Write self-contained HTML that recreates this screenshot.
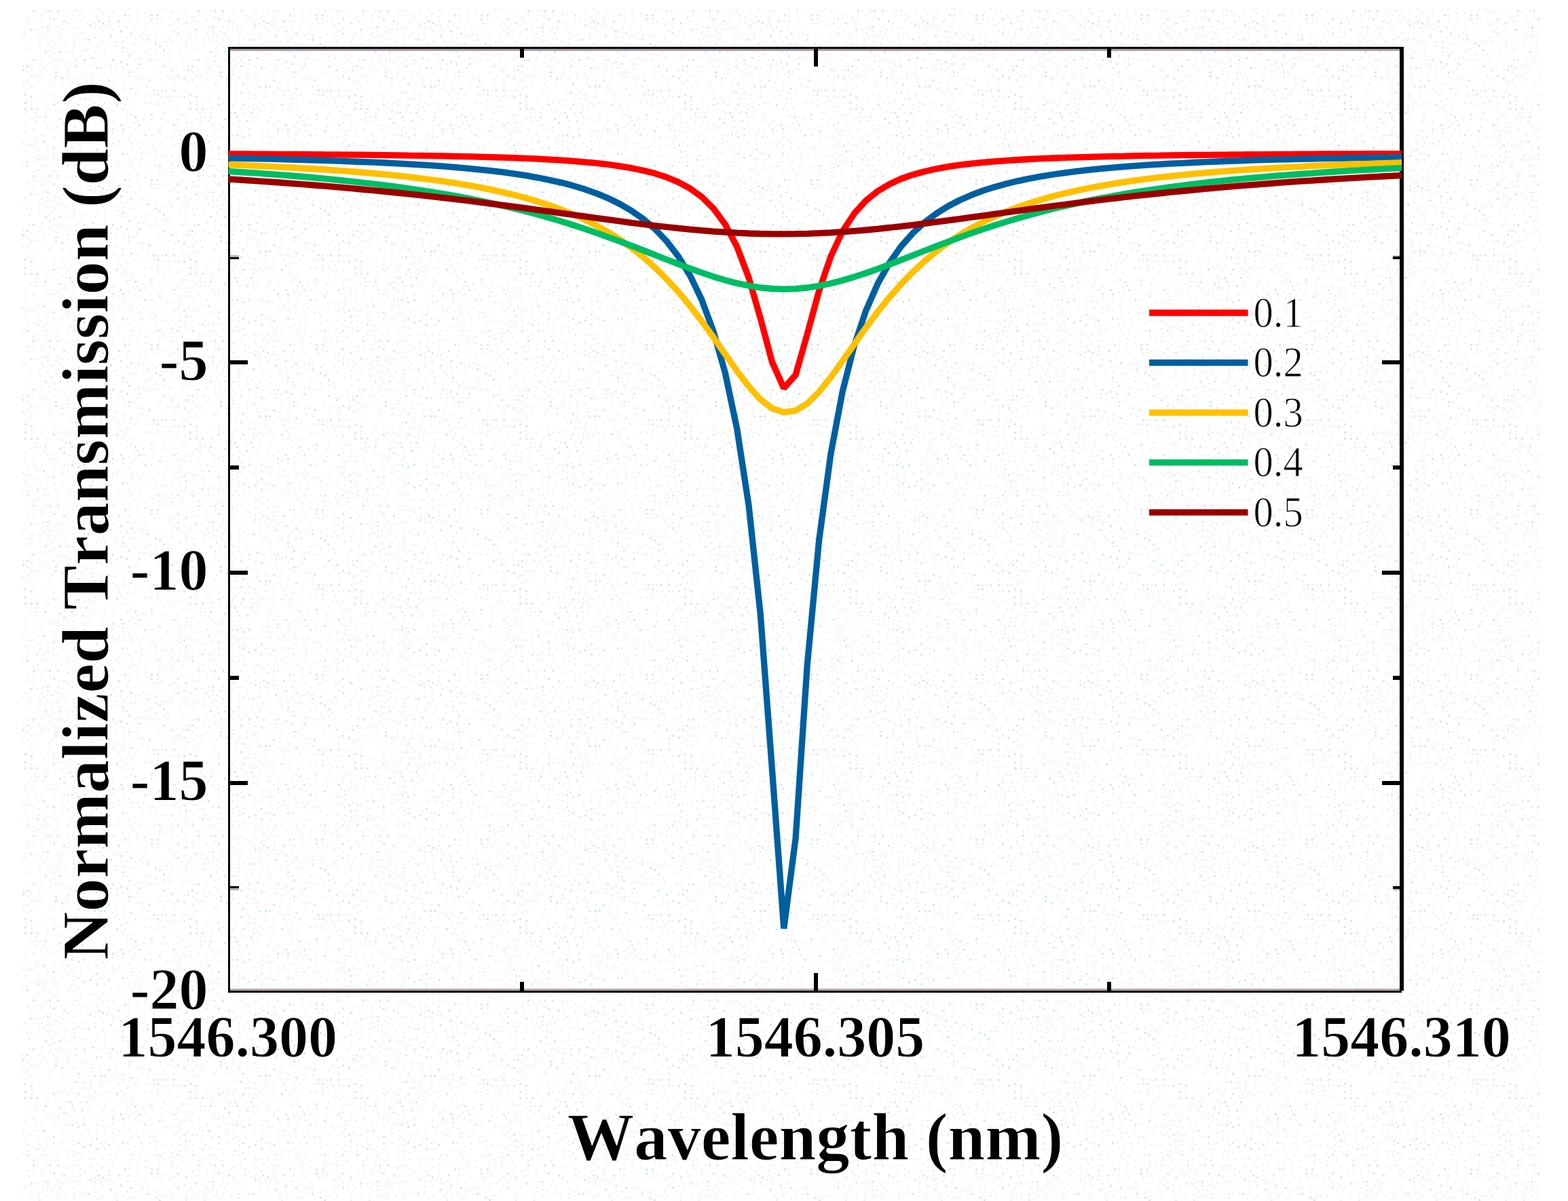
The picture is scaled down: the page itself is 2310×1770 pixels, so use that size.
<!DOCTYPE html>
<html><head><meta charset="utf-8"><title>Normalized Transmission</title>
<style>html,body{margin:0;padding:0;background:#fff}svg{display:block}text{font-family:"Liberation Serif",serif;fill:#000;font-kerning:none;font-variant-ligatures:none;stroke:#fff;stroke-width:1px;stroke-linejoin:round}.b{font-weight:bold}</style></head><body>
<svg width="2310" height="1770" viewBox="0 0 2310 1770">
<rect width="2310" height="1770" fill="#fff"/>
<defs><pattern id="n" width="243" height="243" patternUnits="userSpaceOnUse"><g fill="#faeeee"><rect x="123" y="57" width="3" height="3"/><rect x="21" y="192" width="3" height="3"/><rect x="12" y="33" width="3" height="3"/><rect x="159" y="24" width="3" height="3"/><rect x="33" y="210" width="3" height="3"/><rect x="21" y="216" width="3" height="3"/><rect x="222" y="150" width="3" height="3"/><rect x="51" y="111" width="3" height="3"/><rect x="54" y="207" width="3" height="3"/><rect x="219" y="72" width="3" height="3"/><rect x="21" y="237" width="3" height="3"/><rect x="189" y="204" width="3" height="3"/><rect x="174" y="138" width="3" height="3"/><rect x="129" y="171" width="3" height="3"/><rect x="231" y="27" width="3" height="3"/><rect x="195" y="159" width="3" height="3"/><rect x="222" y="174" width="3" height="3"/><rect x="147" y="132" width="3" height="3"/><rect x="63" y="234" width="3" height="3"/><rect x="189" y="21" width="3" height="3"/><rect x="93" y="150" width="3" height="3"/><rect x="189" y="30" width="3" height="3"/><rect x="165" y="210" width="3" height="3"/><rect x="144" y="87" width="3" height="3"/><rect x="30" y="66" width="3" height="3"/><rect x="87" y="87" width="3" height="3"/><rect x="186" y="225" width="3" height="3"/><rect x="99" y="108" width="3" height="3"/><rect x="213" y="150" width="3" height="3"/><rect x="153" y="150" width="3" height="3"/><rect x="183" y="153" width="3" height="3"/><rect x="72" y="24" width="3" height="3"/><rect x="168" y="60" width="3" height="3"/><rect x="18" y="39" width="3" height="3"/><rect x="234" y="9" width="3" height="3"/><rect x="78" y="234" width="3" height="3"/><rect x="57" y="96" width="3" height="3"/><rect x="117" y="30" width="3" height="3"/><rect x="60" y="198" width="3" height="3"/><rect x="78" y="201" width="3" height="3"/><rect x="9" y="201" width="3" height="3"/><rect x="198" y="138" width="3" height="3"/><rect x="207" y="192" width="3" height="3"/><rect x="72" y="90" width="3" height="3"/><rect x="9" y="9" width="3" height="3"/><rect x="180" y="99" width="3" height="3"/><rect x="231" y="132" width="3" height="3"/><rect x="132" y="138" width="3" height="3"/><rect x="84" y="39" width="3" height="3"/><rect x="180" y="75" width="3" height="3"/><rect x="150" y="177" width="3" height="3"/><rect x="30" y="60" width="3" height="3"/><rect x="48" y="9" width="3" height="3"/><rect x="180" y="132" width="3" height="3"/><rect x="210" y="210" width="3" height="3"/><rect x="51" y="165" width="3" height="3"/><rect x="81" y="9" width="3" height="3"/><rect x="90" y="225" width="3" height="3"/><rect x="99" y="207" width="3" height="3"/><rect x="222" y="198" width="3" height="3"/><rect x="195" y="6" width="3" height="3"/><rect x="69" y="231" width="3" height="3"/><rect x="57" y="66" width="3" height="3"/><rect x="45" y="213" width="3" height="3"/><rect x="39" y="213" width="3" height="3"/><rect x="36" y="192" width="3" height="3"/><rect x="24" y="168" width="3" height="3"/><rect x="93" y="198" width="3" height="3"/><rect x="213" y="75" width="3" height="3"/><rect x="168" y="120" width="3" height="3"/><rect x="90" y="162" width="3" height="3"/><rect x="138" y="54" width="3" height="3"/><rect x="51" y="177" width="3" height="3"/><rect x="60" y="84" width="3" height="3"/><rect x="165" y="195" width="3" height="3"/><rect x="129" y="159" width="3" height="3"/><rect x="135" y="120" width="3" height="3"/><rect x="138" y="6" width="3" height="3"/><rect x="210" y="174" width="3" height="3"/><rect x="6" y="147" width="3" height="3"/><rect x="111" y="195" width="3" height="3"/><rect x="42" y="87" width="3" height="3"/><rect x="99" y="153" width="3" height="3"/><rect x="27" y="102" width="3" height="3"/><rect x="30" y="231" width="3" height="3"/><rect x="45" y="174" width="3" height="3"/><rect x="129" y="210" width="3" height="3"/><rect x="102" y="237" width="3" height="3"/><rect x="90" y="42" width="3" height="3"/><rect x="99" y="18" width="3" height="3"/><rect x="132" y="6" width="3" height="3"/><rect x="12" y="3" width="3" height="3"/><rect x="192" y="210" width="3" height="3"/><rect x="195" y="180" width="3" height="3"/><rect x="150" y="192" width="3" height="3"/><rect x="81" y="87" width="3" height="3"/><rect x="75" y="51" width="3" height="3"/><rect x="132" y="18" width="3" height="3"/><rect x="96" y="165" width="3" height="3"/><rect x="108" y="228" width="3" height="3"/><rect x="111" y="15" width="3" height="3"/><rect x="69" y="60" width="3" height="3"/><rect x="171" y="0" width="3" height="3"/><rect x="123" y="93" width="3" height="3"/><rect x="117" y="81" width="3" height="3"/><rect x="69" y="0" width="3" height="3"/><rect x="192" y="0" width="3" height="3"/><rect x="99" y="33" width="3" height="3"/><rect x="153" y="225" width="3" height="3"/><rect x="150" y="6" width="3" height="3"/><rect x="114" y="240" width="3" height="3"/><rect x="57" y="228" width="3" height="3"/><rect x="123" y="189" width="3" height="3"/><rect x="192" y="216" width="3" height="3"/><rect x="222" y="87" width="3" height="3"/><rect x="9" y="15" width="3" height="3"/><rect x="138" y="39" width="3" height="3"/><rect x="171" y="213" width="3" height="3"/><rect x="99" y="0" width="3" height="3"/><rect x="228" y="54" width="3" height="3"/><rect x="216" y="51" width="3" height="3"/><rect x="108" y="177" width="3" height="3"/><rect x="30" y="180" width="3" height="3"/><rect x="27" y="192" width="3" height="3"/><rect x="102" y="147" width="3" height="3"/><rect x="201" y="99" width="3" height="3"/><rect x="195" y="105" width="3" height="3"/><rect x="189" y="186" width="3" height="3"/><rect x="9" y="60" width="3" height="3"/><rect x="186" y="171" width="3" height="3"/><rect x="114" y="54" width="3" height="3"/><rect x="132" y="144" width="3" height="3"/><rect x="45" y="126" width="3" height="3"/><rect x="150" y="45" width="3" height="3"/><rect x="3" y="111" width="3" height="3"/><rect x="141" y="24" width="3" height="3"/><rect x="147" y="225" width="3" height="3"/><rect x="105" y="39" width="3" height="3"/><rect x="108" y="57" width="3" height="3"/><rect x="9" y="240" width="3" height="3"/><rect x="18" y="156" width="3" height="3"/><rect x="108" y="186" width="3" height="3"/><rect x="210" y="48" width="3" height="3"/><rect x="180" y="159" width="3" height="3"/><rect x="108" y="114" width="3" height="3"/><rect x="60" y="27" width="3" height="3"/><rect x="210" y="84" width="3" height="3"/><rect x="33" y="120" width="3" height="3"/><rect x="156" y="201" width="3" height="3"/><rect x="240" y="81" width="3" height="3"/><rect x="102" y="93" width="3" height="3"/><rect x="153" y="171" width="3" height="3"/><rect x="117" y="6" width="3" height="3"/><rect x="150" y="201" width="3" height="3"/><rect x="171" y="93" width="3" height="3"/><rect x="84" y="57" width="3" height="3"/><rect x="12" y="114" width="3" height="3"/><rect x="165" y="42" width="3" height="3"/><rect x="147" y="99" width="3" height="3"/><rect x="228" y="0" width="3" height="3"/><rect x="204" y="114" width="3" height="3"/><rect x="90" y="210" width="3" height="3"/><rect x="117" y="21" width="3" height="3"/><rect x="159" y="30" width="3" height="3"/><rect x="138" y="150" width="3" height="3"/><rect x="78" y="189" width="3" height="3"/><rect x="189" y="234" width="3" height="3"/><rect x="84" y="186" width="3" height="3"/><rect x="21" y="228" width="3" height="3"/><rect x="150" y="18" width="3" height="3"/><rect x="9" y="228" width="3" height="3"/><rect x="21" y="69" width="3" height="3"/><rect x="42" y="30" width="3" height="3"/><rect x="126" y="72" width="3" height="3"/><rect x="201" y="177" width="3" height="3"/><rect x="117" y="144" width="3" height="3"/><rect x="63" y="39" width="3" height="3"/><rect x="30" y="132" width="3" height="3"/><rect x="78" y="144" width="3" height="3"/><rect x="117" y="165" width="3" height="3"/><rect x="18" y="180" width="3" height="3"/><rect x="141" y="207" width="3" height="3"/><rect x="72" y="123" width="3" height="3"/><rect x="144" y="12" width="3" height="3"/><rect x="120" y="105" width="3" height="3"/><rect x="24" y="9" width="3" height="3"/><rect x="177" y="147" width="3" height="3"/><rect x="48" y="189" width="3" height="3"/><rect x="90" y="123" width="3" height="3"/><rect x="150" y="60" width="3" height="3"/><rect x="207" y="123" width="3" height="3"/><rect x="237" y="30" width="3" height="3"/><rect x="171" y="66" width="3" height="3"/><rect x="45" y="111" width="3" height="3"/><rect x="105" y="216" width="3" height="3"/><rect x="99" y="75" width="3" height="3"/><rect x="93" y="90" width="3" height="3"/><rect x="108" y="222" width="3" height="3"/><rect x="123" y="24" width="3" height="3"/><rect x="111" y="87" width="3" height="3"/><rect x="228" y="222" width="3" height="3"/><rect x="237" y="132" width="3" height="3"/><rect x="12" y="141" width="3" height="3"/><rect x="78" y="96" width="3" height="3"/><rect x="228" y="78" width="3" height="3"/><rect x="156" y="36" width="3" height="3"/><rect x="138" y="75" width="3" height="3"/><rect x="153" y="78" width="3" height="3"/><rect x="219" y="138" width="3" height="3"/><rect x="60" y="48" width="3" height="3"/><rect x="18" y="210" width="3" height="3"/><rect x="192" y="63" width="3" height="3"/><rect x="132" y="108" width="3" height="3"/><rect x="198" y="63" width="3" height="3"/><rect x="186" y="75" width="3" height="3"/><rect x="231" y="147" width="3" height="3"/><rect x="153" y="234" width="3" height="3"/><rect x="12" y="123" width="3" height="3"/><rect x="147" y="141" width="3" height="3"/><rect x="192" y="168" width="3" height="3"/><rect x="237" y="186" width="3" height="3"/><rect x="237" y="174" width="3" height="3"/><rect x="39" y="24" width="3" height="3"/><rect x="138" y="33" width="3" height="3"/><rect x="42" y="72" width="3" height="3"/><rect x="96" y="60" width="3" height="3"/><rect x="234" y="105" width="3" height="3"/><rect x="78" y="225" width="3" height="3"/><rect x="75" y="69" width="3" height="3"/><rect x="123" y="144" width="3" height="3"/><rect x="30" y="168" width="3" height="3"/><rect x="0" y="12" width="3" height="3"/><rect x="240" y="165" width="3" height="3"/><rect x="135" y="114" width="3" height="3"/><rect x="204" y="84" width="3" height="3"/><rect x="180" y="60" width="3" height="3"/><rect x="57" y="171" width="3" height="3"/><rect x="198" y="189" width="3" height="3"/><rect x="63" y="0" width="3" height="3"/><rect x="21" y="204" width="3" height="3"/><rect x="153" y="69" width="3" height="3"/><rect x="204" y="0" width="3" height="3"/><rect x="165" y="177" width="3" height="3"/><rect x="12" y="45" width="3" height="3"/><rect x="63" y="99" width="3" height="3"/><rect x="63" y="54" width="3" height="3"/><rect x="39" y="237" width="3" height="3"/><rect x="225" y="138" width="3" height="3"/><rect x="147" y="39" width="3" height="3"/><rect x="78" y="78" width="3" height="3"/><rect x="36" y="48" width="3" height="3"/><rect x="162" y="99" width="3" height="3"/><rect x="132" y="96" width="3" height="3"/><rect x="18" y="141" width="3" height="3"/><rect x="204" y="216" width="3" height="3"/><rect x="108" y="63" width="3" height="3"/><rect x="0" y="201" width="3" height="3"/><rect x="99" y="219" width="3" height="3"/><rect x="123" y="135" width="3" height="3"/><rect x="63" y="177" width="3" height="3"/><rect x="87" y="48" width="3" height="3"/><rect x="57" y="57" width="3" height="3"/><rect x="105" y="75" width="3" height="3"/><rect x="39" y="105" width="3" height="3"/><rect x="6" y="54" width="3" height="3"/><rect x="231" y="153" width="3" height="3"/><rect x="69" y="45" width="3" height="3"/><rect x="186" y="39" width="3" height="3"/><rect x="174" y="207" width="3" height="3"/><rect x="180" y="195" width="3" height="3"/><rect x="141" y="198" width="3" height="3"/><rect x="144" y="153" width="3" height="3"/><rect x="135" y="222" width="3" height="3"/><rect x="84" y="150" width="3" height="3"/><rect x="81" y="63" width="3" height="3"/><rect x="135" y="156" width="3" height="3"/><rect x="69" y="183" width="3" height="3"/><rect x="105" y="135" width="3" height="3"/><rect x="3" y="78" width="3" height="3"/><rect x="36" y="222" width="3" height="3"/><rect x="171" y="132" width="3" height="3"/><rect x="210" y="114" width="3" height="3"/><rect x="45" y="99" width="3" height="3"/><rect x="0" y="60" width="3" height="3"/><rect x="189" y="111" width="3" height="3"/><rect x="186" y="54" width="3" height="3"/><rect x="165" y="129" width="3" height="3"/><rect x="120" y="114" width="3" height="3"/><rect x="225" y="33" width="3" height="3"/><rect x="153" y="210" width="3" height="3"/><rect x="207" y="234" width="3" height="3"/><rect x="30" y="81" width="3" height="3"/><rect x="3" y="141" width="3" height="3"/><rect x="69" y="159" width="3" height="3"/><rect x="162" y="0" width="3" height="3"/><rect x="81" y="45" width="3" height="3"/><rect x="147" y="117" width="3" height="3"/><rect x="54" y="42" width="3" height="3"/><rect x="159" y="183" width="3" height="3"/><rect x="216" y="126" width="3" height="3"/><rect x="237" y="228" width="3" height="3"/><rect x="162" y="93" width="3" height="3"/><rect x="231" y="87" width="3" height="3"/><rect x="108" y="0" width="3" height="3"/><rect x="99" y="102" width="3" height="3"/><rect x="54" y="219" width="3" height="3"/><rect x="186" y="144" width="3" height="3"/><rect x="24" y="87" width="3" height="3"/><rect x="99" y="198" width="3" height="3"/><rect x="72" y="81" width="3" height="3"/><rect x="219" y="216" width="3" height="3"/><rect x="15" y="189" width="3" height="3"/><rect x="6" y="36" width="3" height="3"/><rect x="225" y="216" width="3" height="3"/><rect x="162" y="36" width="3" height="3"/><rect x="12" y="213" width="3" height="3"/><rect x="33" y="96" width="3" height="3"/><rect x="180" y="123" width="3" height="3"/><rect x="144" y="63" width="3" height="3"/><rect x="27" y="237" width="3" height="3"/><rect x="51" y="171" width="3" height="3"/><rect x="111" y="159" width="3" height="3"/><rect x="54" y="6" width="3" height="3"/><rect x="108" y="69" width="3" height="3"/><rect x="165" y="15" width="3" height="3"/><rect x="69" y="51" width="3" height="3"/><rect x="21" y="198" width="3" height="3"/><rect x="69" y="216" width="3" height="3"/><rect x="27" y="45" width="3" height="3"/><rect x="204" y="51" width="3" height="3"/><rect x="39" y="117" width="3" height="3"/><rect x="66" y="15" width="3" height="3"/><rect x="45" y="153" width="3" height="3"/><rect x="207" y="225" width="3" height="3"/><rect x="201" y="12" width="3" height="3"/><rect x="129" y="153" width="3" height="3"/><rect x="213" y="18" width="3" height="3"/><rect x="6" y="84" width="3" height="3"/></g><g fill="#d2eaf6"><rect x="18" y="27" width="3" height="3"/><rect x="36" y="138" width="3" height="3"/><rect x="222" y="21" width="3" height="3"/><rect x="84" y="15" width="3" height="3"/><rect x="219" y="117" width="3" height="3"/><rect x="69" y="39" width="3" height="3"/><rect x="120" y="177" width="3" height="3"/><rect x="93" y="30" width="3" height="3"/><rect x="114" y="201" width="3" height="3"/><rect x="129" y="57" width="3" height="3"/><rect x="27" y="213" width="3" height="3"/><rect x="132" y="228" width="3" height="3"/><rect x="33" y="102" width="3" height="3"/><rect x="171" y="153" width="3" height="3"/><rect x="54" y="159" width="3" height="3"/><rect x="141" y="234" width="3" height="3"/><rect x="216" y="57" width="3" height="3"/><rect x="231" y="138" width="3" height="3"/><rect x="45" y="42" width="3" height="3"/><rect x="177" y="183" width="3" height="3"/><rect x="135" y="84" width="3" height="3"/><rect x="87" y="75" width="3" height="3"/><rect x="234" y="0" width="3" height="3"/><rect x="54" y="234" width="3" height="3"/><rect x="81" y="111" width="3" height="3"/><rect x="192" y="48" width="3" height="3"/><rect x="123" y="198" width="3" height="3"/><rect x="234" y="192" width="3" height="3"/><rect x="105" y="171" width="3" height="3"/><rect x="204" y="183" width="3" height="3"/><rect x="36" y="150" width="3" height="3"/><rect x="165" y="189" width="3" height="3"/><rect x="138" y="126" width="3" height="3"/><rect x="144" y="30" width="3" height="3"/><rect x="30" y="222" width="3" height="3"/><rect x="204" y="93" width="3" height="3"/><rect x="87" y="174" width="3" height="3"/><rect x="183" y="21" width="3" height="3"/><rect x="177" y="45" width="3" height="3"/><rect x="78" y="27" width="3" height="3"/><rect x="102" y="165" width="3" height="3"/><rect x="90" y="114" width="3" height="3"/><rect x="162" y="51" width="3" height="3"/><rect x="141" y="99" width="3" height="3"/><rect x="189" y="105" width="3" height="3"/><rect x="180" y="225" width="3" height="3"/><rect x="174" y="30" width="3" height="3"/><rect x="48" y="87" width="3" height="3"/><rect x="240" y="96" width="3" height="3"/><rect x="27" y="114" width="3" height="3"/><rect x="93" y="180" width="3" height="3"/><rect x="12" y="183" width="3" height="3"/><rect x="36" y="159" width="3" height="3"/><rect x="39" y="0" width="3" height="3"/><rect x="27" y="141" width="3" height="3"/><rect x="66" y="171" width="3" height="3"/><rect x="150" y="33" width="3" height="3"/><rect x="48" y="15" width="3" height="3"/><rect x="180" y="69" width="3" height="3"/><rect x="72" y="15" width="3" height="3"/><rect x="159" y="117" width="3" height="3"/><rect x="213" y="198" width="3" height="3"/><rect x="39" y="96" width="3" height="3"/><rect x="18" y="111" width="3" height="3"/><rect x="18" y="48" width="3" height="3"/><rect x="18" y="0" width="3" height="3"/><rect x="222" y="168" width="3" height="3"/><rect x="234" y="66" width="3" height="3"/><rect x="147" y="126" width="3" height="3"/><rect x="165" y="87" width="3" height="3"/><rect x="222" y="27" width="3" height="3"/><rect x="0" y="132" width="3" height="3"/><rect x="225" y="132" width="3" height="3"/><rect x="12" y="132" width="3" height="3"/><rect x="177" y="90" width="3" height="3"/><rect x="123" y="231" width="3" height="3"/><rect x="132" y="36" width="3" height="3"/><rect x="114" y="153" width="3" height="3"/><rect x="114" y="123" width="3" height="3"/><rect x="111" y="96" width="3" height="3"/><rect x="78" y="153" width="3" height="3"/><rect x="189" y="81" width="3" height="3"/><rect x="180" y="189" width="3" height="3"/><rect x="186" y="93" width="3" height="3"/><rect x="63" y="207" width="3" height="3"/><rect x="111" y="135" width="3" height="3"/><rect x="153" y="126" width="3" height="3"/><rect x="231" y="21" width="3" height="3"/><rect x="45" y="159" width="3" height="3"/><rect x="228" y="63" width="3" height="3"/><rect x="105" y="198" width="3" height="3"/><rect x="78" y="216" width="3" height="3"/><rect x="114" y="225" width="3" height="3"/><rect x="45" y="141" width="3" height="3"/><rect x="123" y="87" width="3" height="3"/><rect x="9" y="102" width="3" height="3"/><rect x="192" y="129" width="3" height="3"/><rect x="81" y="105" width="3" height="3"/><rect x="66" y="75" width="3" height="3"/><rect x="30" y="33" width="3" height="3"/><rect x="240" y="72" width="3" height="3"/><rect x="141" y="219" width="3" height="3"/><rect x="198" y="171" width="3" height="3"/><rect x="159" y="228" width="3" height="3"/><rect x="126" y="165" width="3" height="3"/></g><g fill="#f0fde4"><rect x="84" y="240" width="3" height="3"/><rect x="159" y="15" width="3" height="3"/><rect x="117" y="219" width="3" height="3"/><rect x="159" y="135" width="3" height="3"/><rect x="195" y="237" width="3" height="3"/><rect x="78" y="183" width="3" height="3"/><rect x="132" y="30" width="3" height="3"/><rect x="66" y="165" width="3" height="3"/><rect x="135" y="174" width="3" height="3"/><rect x="75" y="117" width="3" height="3"/><rect x="171" y="192" width="3" height="3"/><rect x="171" y="39" width="3" height="3"/><rect x="3" y="27" width="3" height="3"/><rect x="144" y="192" width="3" height="3"/><rect x="105" y="192" width="3" height="3"/><rect x="108" y="237" width="3" height="3"/><rect x="240" y="6" width="3" height="3"/><rect x="204" y="33" width="3" height="3"/><rect x="15" y="234" width="3" height="3"/><rect x="96" y="114" width="3" height="3"/><rect x="48" y="231" width="3" height="3"/><rect x="234" y="51" width="3" height="3"/><rect x="45" y="63" width="3" height="3"/><rect x="138" y="48" width="3" height="3"/><rect x="105" y="120" width="3" height="3"/><rect x="72" y="189" width="3" height="3"/><rect x="111" y="39" width="3" height="3"/><rect x="180" y="9" width="3" height="3"/><rect x="156" y="93" width="3" height="3"/><rect x="102" y="126" width="3" height="3"/><rect x="0" y="228" width="3" height="3"/><rect x="174" y="237" width="3" height="3"/><rect x="123" y="156" width="3" height="3"/><rect x="141" y="69" width="3" height="3"/><rect x="210" y="57" width="3" height="3"/><rect x="237" y="60" width="3" height="3"/><rect x="240" y="117" width="3" height="3"/><rect x="192" y="195" width="3" height="3"/><rect x="15" y="15" width="3" height="3"/><rect x="192" y="144" width="3" height="3"/><rect x="24" y="132" width="3" height="3"/><rect x="60" y="105" width="3" height="3"/><rect x="201" y="18" width="3" height="3"/><rect x="57" y="111" width="3" height="3"/><rect x="78" y="138" width="3" height="3"/><rect x="24" y="54" width="3" height="3"/><rect x="234" y="210" width="3" height="3"/><rect x="198" y="231" width="3" height="3"/><rect x="99" y="87" width="3" height="3"/><rect x="90" y="144" width="3" height="3"/><rect x="33" y="240" width="3" height="3"/><rect x="213" y="39" width="3" height="3"/><rect x="63" y="144" width="3" height="3"/><rect x="228" y="231" width="3" height="3"/><rect x="39" y="63" width="3" height="3"/><rect x="84" y="192" width="3" height="3"/><rect x="159" y="87" width="3" height="3"/><rect x="159" y="159" width="3" height="3"/><rect x="111" y="210" width="3" height="3"/><rect x="186" y="162" width="3" height="3"/><rect x="201" y="132" width="3" height="3"/><rect x="222" y="3" width="3" height="3"/><rect x="231" y="33" width="3" height="3"/><rect x="69" y="138" width="3" height="3"/><rect x="234" y="15" width="3" height="3"/><rect x="81" y="159" width="3" height="3"/><rect x="132" y="78" width="3" height="3"/><rect x="165" y="216" width="3" height="3"/><rect x="24" y="3" width="3" height="3"/><rect x="105" y="210" width="3" height="3"/><rect x="216" y="87" width="3" height="3"/><rect x="90" y="54" width="3" height="3"/><rect x="126" y="108" width="3" height="3"/><rect x="198" y="54" width="3" height="3"/></g><g fill="#eafbff"><rect x="93" y="69" width="3" height="3"/><rect x="120" y="129" width="3" height="3"/><rect x="24" y="21" width="3" height="3"/><rect x="171" y="108" width="3" height="3"/><rect x="108" y="48" width="3" height="3"/><rect x="120" y="48" width="3" height="3"/><rect x="18" y="174" width="3" height="3"/><rect x="39" y="129" width="3" height="3"/><rect x="99" y="183" width="3" height="3"/><rect x="84" y="234" width="3" height="3"/><rect x="189" y="135" width="3" height="3"/><rect x="45" y="147" width="3" height="3"/><rect x="126" y="33" width="3" height="3"/><rect x="6" y="3" width="3" height="3"/><rect x="39" y="201" width="3" height="3"/><rect x="48" y="21" width="3" height="3"/><rect x="180" y="237" width="3" height="3"/><rect x="213" y="183" width="3" height="3"/><rect x="105" y="15" width="3" height="3"/><rect x="213" y="9" width="3" height="3"/><rect x="195" y="75" width="3" height="3"/><rect x="45" y="57" width="3" height="3"/><rect x="69" y="102" width="3" height="3"/><rect x="219" y="189" width="3" height="3"/><rect x="105" y="21" width="3" height="3"/><rect x="15" y="201" width="3" height="3"/><rect x="54" y="15" width="3" height="3"/><rect x="51" y="201" width="3" height="3"/><rect x="201" y="24" width="3" height="3"/><rect x="183" y="108" width="3" height="3"/><rect x="33" y="54" width="3" height="3"/><rect x="138" y="162" width="3" height="3"/><rect x="120" y="72" width="3" height="3"/><rect x="75" y="6" width="3" height="3"/><rect x="12" y="162" width="3" height="3"/><rect x="198" y="39" width="3" height="3"/><rect x="9" y="156" width="3" height="3"/><rect x="189" y="12" width="3" height="3"/><rect x="84" y="99" width="3" height="3"/><rect x="15" y="99" width="3" height="3"/><rect x="39" y="180" width="3" height="3"/><rect x="90" y="204" width="3" height="3"/><rect x="39" y="228" width="3" height="3"/><rect x="60" y="150" width="3" height="3"/><rect x="159" y="6" width="3" height="3"/><rect x="237" y="141" width="3" height="3"/><rect x="48" y="30" width="3" height="3"/><rect x="30" y="18" width="3" height="3"/><rect x="99" y="42" width="3" height="3"/><rect x="240" y="150" width="3" height="3"/><rect x="3" y="93" width="3" height="3"/><rect x="60" y="21" width="3" height="3"/><rect x="75" y="60" width="3" height="3"/><rect x="180" y="201" width="3" height="3"/><rect x="36" y="186" width="3" height="3"/><rect x="108" y="81" width="3" height="3"/><rect x="30" y="186" width="3" height="3"/><rect x="153" y="165" width="3" height="3"/><rect x="219" y="225" width="3" height="3"/><rect x="180" y="213" width="3" height="3"/><rect x="87" y="69" width="3" height="3"/><rect x="177" y="54" width="3" height="3"/><rect x="129" y="180" width="3" height="3"/><rect x="201" y="210" width="3" height="3"/><rect x="117" y="213" width="3" height="3"/><rect x="93" y="171" width="3" height="3"/><rect x="240" y="213" width="3" height="3"/><rect x="171" y="102" width="3" height="3"/><rect x="54" y="120" width="3" height="3"/><rect x="3" y="177" width="3" height="3"/><rect x="198" y="87" width="3" height="3"/><rect x="3" y="156" width="3" height="3"/><rect x="159" y="150" width="3" height="3"/></g></pattern></defs>
<rect x="33" y="12" width="2236" height="1758" fill="url(#n)"/>
<g fill="#000" shape-rendering="crispEdges">
<rect x="336" y="69" width="1732" height="3"/>
<rect x="339" y="72" width="1723" height="3" fill="#a99ba8"/>
<rect x="336" y="1460" width="1729" height="3"/>
<rect x="339" y="1457" width="1723" height="3" fill="#b5a9b3"/>
<rect x="336" y="69" width="3" height="1394"/>
<rect x="2062" y="69" width="6" height="1391"/>
<rect x="339" y="376" width="13" height="3" fill="#b4b6c2"/><rect x="339" y="379" width="13" height="3"/>
<rect x="2052" y="375.5" width="10" height="2" fill="#c9c2cc"/><rect x="2052" y="377.5" width="10" height="4.5"/>
<rect x="339" y="530.5" width="26" height="6"/>
<rect x="2036" y="530.5" width="26" height="6"/>
<rect x="339" y="685.5" width="13" height="6"/>
<rect x="2052" y="685.5" width="10" height="6"/>
<rect x="339" y="840.5" width="26" height="6"/>
<rect x="2036" y="840.5" width="26" height="6"/>
<rect x="339" y="995.5" width="13" height="6"/>
<rect x="2052" y="995.5" width="10" height="6"/>
<rect x="339" y="1150.5" width="26" height="6"/>
<rect x="2036" y="1150.5" width="26" height="6"/>
<rect x="339" y="1305.5" width="13" height="3"/><rect x="339" y="1308.5" width="13" height="3" fill="#b4b0bc"/>
<rect x="2052" y="1305.5" width="10" height="4"/><rect x="2052" y="1309.5" width="10" height="2" fill="#b4b0bc"/>
<rect x="766" y="72" width="6" height="13"/>
<rect x="766" y="1447" width="6" height="13"/>
<rect x="1199" y="72" width="6" height="26"/>
<rect x="1199" y="1434" width="6" height="26"/>
<rect x="1631" y="72" width="6" height="13"/>
<rect x="1631" y="1447" width="6" height="13"/>
</g>
<clipPath id="c"><rect x="336.5" y="72" width="1728.5" height="1388"/></clipPath>
<g clip-path="url(#c)">
<polyline points="308.3,226.8 325.6,226.8 342.9,226.9 360.1,227.0 377.4,227.1 394.7,227.2 412.0,227.3 429.2,227.4 446.5,227.5 463.8,227.6 481.1,227.8 498.4,227.9 515.6,228.1 532.9,228.2 550.2,228.4 567.5,228.6 584.7,228.8 602.0,229.1 619.3,229.3 636.5,229.6 653.8,229.9 671.1,230.3 688.4,230.7 705.6,231.1 722.9,231.6 740.2,232.1 757.5,232.7 774.8,233.4 792.0,234.2 809.3,235.1 826.6,236.1 843.8,237.3 861.1,238.8 878.4,240.4 895.7,242.4 913.0,244.8 930.2,247.7 947.5,251.2 964.8,255.6 982.0,261.2 999.3,268.4 1016.6,277.7 1033.9,290.2 1051.1,307.2 1068.4,330.7 1085.7,363.5 1103.0,409.0 1120.2,468.7 1137.5,533.5 1154.8,572.2 1172.1,552.6 1189.3,492.3 1206.6,428.8 1223.9,378.1 1241.2,341.1 1258.5,314.7 1275.7,295.7 1293.0,281.8 1310.3,271.4 1327.5,263.5 1344.8,257.4 1362.1,252.7 1379.4,248.8 1396.6,245.7 1413.9,243.2 1431.2,241.1 1448.5,239.3 1465.8,237.8 1483.0,236.6 1500.3,235.5 1517.6,234.5 1534.8,233.7 1552.1,233.0 1569.4,232.3 1586.7,231.8 1603.9,231.3 1621.2,230.8 1638.5,230.4 1655.8,230.1 1673.0,229.7 1690.3,229.4 1707.6,229.2 1724.9,228.9 1742.1,228.7 1759.4,228.5 1776.7,228.3 1794.0,228.1 1811.2,228.0 1828.5,227.8 1845.8,227.7 1863.1,227.6 1880.3,227.4 1897.6,227.3 1914.9,227.2 1932.2,227.1 1949.4,227.0 1966.7,227.0 1984.0,226.9 2001.3,226.8 2018.5,226.7 2035.8,226.7 2053.1,226.6 2070.4,226.5 2087.6,226.5" stroke="#ff0000" stroke-width="9.3" fill="none" stroke-linejoin="bevel"/>
<polyline points="308.3,232.6 325.6,232.8 342.9,233.2 360.1,233.5 377.4,233.9 394.7,234.2 412.0,234.6 429.2,235.1 446.5,235.5 463.8,236.0 481.1,236.6 498.4,237.2 515.6,237.8 532.9,238.5 550.2,239.2 567.5,240.0 584.7,240.8 602.0,241.8 619.3,242.8 636.5,243.9 653.8,245.2 671.1,246.6 688.4,248.1 705.6,249.8 722.9,251.6 740.2,253.7 757.5,256.1 774.8,258.7 792.0,261.8 809.3,265.2 826.6,269.1 843.8,273.6 861.1,278.8 878.4,284.9 895.7,292.0 913.0,300.5 930.2,310.5 947.5,322.6 964.8,337.4 982.0,355.4 999.3,377.9 1016.6,406.1 1033.9,442.1 1051.1,488.6 1068.4,549.8 1085.7,631.8 1103.0,744.5 1120.2,904.2 1137.5,1134.4 1154.8,1368.5 1172.1,1235.7 1189.3,979.4 1206.6,796.6 1223.9,669.0 1241.2,577.1 1258.5,509.2 1275.7,457.8 1293.0,418.3 1310.3,387.5 1327.5,363.1 1344.8,343.6 1362.1,327.7 1379.4,314.7 1396.6,304.0 1413.9,295.0 1431.2,287.4 1448.5,280.9 1465.8,275.4 1483.0,270.7 1500.3,266.6 1517.6,263.0 1534.8,259.8 1552.1,257.0 1569.4,254.6 1586.7,252.4 1603.9,250.4 1621.2,248.7 1638.5,247.1 1655.8,245.7 1673.0,244.4 1690.3,243.2 1707.6,242.2 1724.9,241.2 1742.1,240.3 1759.4,239.5 1776.7,238.7 1794.0,238.0 1811.2,237.4 1828.5,236.8 1845.8,236.2 1863.1,235.7 1880.3,235.2 1897.6,234.8 1914.9,234.4 1932.2,234.0 1949.4,233.6 1966.7,233.3 1984.0,233.0 2001.3,232.7 2018.5,232.4 2035.8,232.1 2053.1,231.9 2070.4,231.6 2087.6,231.4" stroke="#005fa0" stroke-width="9.3" fill="none" stroke-linejoin="bevel"/>
<polyline points="308.3,241.6 325.6,242.3 342.9,242.9 360.1,243.6 377.4,244.4 394.7,245.2 412.0,246.1 429.2,247.0 446.5,248.0 463.8,249.0 481.1,250.1 498.4,251.3 515.6,252.6 532.9,254.0 550.2,255.5 567.5,257.1 584.7,258.8 602.0,260.7 619.3,262.8 636.5,265.0 653.8,267.4 671.1,270.0 688.4,272.8 705.6,276.0 722.9,279.4 740.2,283.2 757.5,287.3 774.8,291.9 792.0,297.0 809.3,302.6 826.6,308.9 843.8,315.8 861.1,323.6 878.4,332.3 895.7,342.0 913.0,352.9 930.2,365.1 947.5,378.8 964.8,394.1 982.0,411.2 999.3,430.1 1016.6,450.8 1033.9,473.4 1051.1,497.3 1068.4,522.1 1085.7,546.6 1103.0,569.4 1120.2,588.5 1137.5,601.9 1154.8,607.7 1172.1,605.2 1189.3,594.7 1206.6,577.7 1223.9,556.1 1241.2,532.1 1258.5,507.3 1275.7,482.9 1293.0,459.7 1310.3,438.2 1327.5,418.6 1344.8,400.8 1362.1,384.8 1379.4,370.5 1396.6,357.7 1413.9,346.3 1431.2,336.1 1448.5,327.0 1465.8,318.9 1483.0,311.6 1500.3,305.1 1517.6,299.2 1534.8,293.9 1552.1,289.1 1569.4,284.8 1586.7,280.9 1603.9,277.3 1621.2,274.1 1638.5,271.1 1655.8,268.4 1673.0,265.9 1690.3,263.6 1707.6,261.5 1724.9,259.6 1742.1,257.8 1759.4,256.1 1776.7,254.6 1794.0,253.2 1811.2,251.8 1828.5,250.6 1845.8,249.5 1863.1,248.4 1880.3,247.4 1897.6,246.4 1914.9,245.6 1932.2,244.7 1949.4,243.9 1966.7,243.2 1984.0,242.5 2001.3,241.9 2018.5,241.3 2035.8,240.7 2053.1,240.1 2070.4,239.6 2087.6,239.1" stroke="#ffc000" stroke-width="9.3" fill="none" stroke-linejoin="bevel"/>
<polyline points="308.3,250.9 325.6,251.8 342.9,252.9 360.1,254.0 377.4,255.2 394.7,256.4 412.0,257.7 429.2,259.0 446.5,260.5 463.8,262.0 481.1,263.6 498.4,265.3 515.6,267.1 532.9,269.0 550.2,271.0 567.5,273.1 584.7,275.4 602.0,277.8 619.3,280.3 636.5,283.0 653.8,285.9 671.1,288.9 688.4,292.1 705.6,295.6 722.9,299.2 740.2,303.1 757.5,307.2 774.8,311.5 792.0,316.1 809.3,321.0 826.6,326.1 843.8,331.5 861.1,337.2 878.4,343.1 895.7,349.3 913.0,355.7 930.2,362.2 947.5,368.9 964.8,375.7 982.0,382.5 999.3,389.2 1016.6,395.7 1033.9,401.9 1051.1,407.7 1068.4,412.9 1085.7,417.4 1103.0,421.0 1120.2,423.8 1137.5,425.5 1154.8,426.1 1172.1,425.6 1189.3,424.0 1206.6,421.3 1223.9,417.8 1241.2,413.3 1258.5,408.2 1275.7,402.5 1293.0,396.3 1310.3,389.8 1327.5,383.1 1344.8,376.3 1362.1,369.5 1379.4,362.8 1396.6,356.3 1413.9,349.9 1431.2,343.7 1448.5,337.7 1465.8,332.0 1483.0,326.6 1500.3,321.5 1517.6,316.6 1534.8,312.0 1552.1,307.6 1569.4,303.5 1586.7,299.6 1603.9,295.9 1621.2,292.4 1638.5,289.2 1655.8,286.1 1673.0,283.2 1690.3,280.5 1707.6,278.0 1724.9,275.6 1742.1,273.3 1759.4,271.2 1776.7,269.1 1794.0,267.2 1811.2,265.4 1828.5,263.7 1845.8,262.1 1863.1,260.6 1880.3,259.1 1897.6,257.8 1914.9,256.5 1932.2,255.3 1949.4,254.1 1966.7,253.0 1984.0,251.9 2001.3,250.9 2018.5,250.0 2035.8,249.1 2053.1,248.2 2070.4,247.4 2087.6,246.6" stroke="#00bd63" stroke-width="9.3" fill="none" stroke-linejoin="bevel"/>
<polyline points="308.3,262.3 325.6,263.4 342.9,264.4 360.1,265.5 377.4,266.6 394.7,267.8 412.0,269.0 429.2,270.3 446.5,271.6 463.8,273.0 481.1,274.4 498.4,275.9 515.6,277.4 532.9,279.0 550.2,280.6 567.5,282.3 584.7,284.0 602.0,285.8 619.3,287.7 636.5,289.6 653.8,291.6 671.1,293.6 688.4,295.7 705.6,297.9 722.9,300.1 740.2,302.3 757.5,304.6 774.8,306.9 792.0,309.3 809.3,311.7 826.6,314.1 843.8,316.5 861.1,318.9 878.4,321.3 895.7,323.7 913.0,326.0 930.2,328.3 947.5,330.5 964.8,332.6 982.0,334.5 999.3,336.4 1016.6,338.1 1033.9,339.7 1051.1,341.1 1068.4,342.2 1085.7,343.2 1103.0,344.0 1120.2,344.5 1137.5,344.8 1154.8,344.9 1172.1,344.7 1189.3,344.3 1206.6,343.6 1223.9,342.8 1241.2,341.7 1258.5,340.4 1275.7,339.0 1293.0,337.3 1310.3,335.5 1327.5,333.6 1344.8,331.6 1362.1,329.4 1379.4,327.2 1396.6,324.9 1413.9,322.6 1431.2,320.2 1448.5,317.8 1465.8,315.4 1483.0,313.0 1500.3,310.6 1517.6,308.2 1534.8,305.8 1552.1,303.5 1569.4,301.3 1586.7,299.0 1603.9,296.9 1621.2,294.7 1638.5,292.7 1655.8,290.6 1673.0,288.7 1690.3,286.8 1707.6,285.0 1724.9,283.2 1742.1,281.5 1759.4,279.8 1776.7,278.2 1794.0,276.7 1811.2,275.2 1828.5,273.7 1845.8,272.3 1863.1,271.0 1880.3,269.7 1897.6,268.4 1914.9,267.2 1932.2,266.1 1949.4,265.0 1966.7,263.9 1984.0,262.9 2001.3,261.9 2018.5,260.9 2035.8,260.0 2053.1,259.1 2070.4,258.2 2087.6,257.4" stroke="#990000" stroke-width="9.3" fill="none" stroke-linejoin="bevel"/>
</g>
<line x1="1693" y1="461.0" x2="1838.5" y2="461.0" stroke="#ff0000" stroke-width="9.3"/>
<text transform="translate(1846.5,481.8) scale(0.93,1)" font-size="63">0.1</text>
<line x1="1693" y1="534.5" x2="1838.5" y2="534.5" stroke="#005fa0" stroke-width="9.3"/>
<text transform="translate(1846.5,555.3) scale(0.93,1)" font-size="63">0.2</text>
<line x1="1693" y1="608.1" x2="1838.5" y2="608.1" stroke="#ffc000" stroke-width="9.3"/>
<text transform="translate(1846.5,628.9) scale(0.93,1)" font-size="63">0.3</text>
<line x1="1693" y1="681.6" x2="1838.5" y2="681.6" stroke="#00bd63" stroke-width="9.3"/>
<text transform="translate(1846.5,702.4) scale(0.93,1)" font-size="63">0.4</text>
<line x1="1693" y1="755.2" x2="1838.5" y2="755.2" stroke="#990000" stroke-width="9.3"/>
<text transform="translate(1846.5,776.0) scale(0.93,1)" font-size="63">0.5</text>
<text class="b" x="306.5" y="251.5" font-size="86" text-anchor="end">0</text>
<text class="b" x="306.5" y="560" font-size="86" text-anchor="end">-5</text>
<text class="b" x="306.5" y="869" font-size="86" text-anchor="end">-10</text>
<text class="b" x="306.5" y="1178.5" font-size="86" text-anchor="end">-15</text>
<text class="b" x="306.5" y="1487" font-size="86" text-anchor="end">-20</text>
<text class="b" x="335.8" y="1557" font-size="86" text-anchor="middle">1546.300</text>
<text class="b" x="1201" y="1557" font-size="86" text-anchor="middle">1546.305</text>
<text class="b" x="2064.5" y="1557" font-size="86" text-anchor="middle">1546.310</text>
<text class="b" x="1201" y="1709" font-size="98.5" text-anchor="middle">Wavelength (nm)</text>
<text class="b" transform="translate(158.5,767.5) rotate(-90)" font-size="98.3" text-anchor="middle">Normalized Transmission (dB)</text>
</svg></body></html>
